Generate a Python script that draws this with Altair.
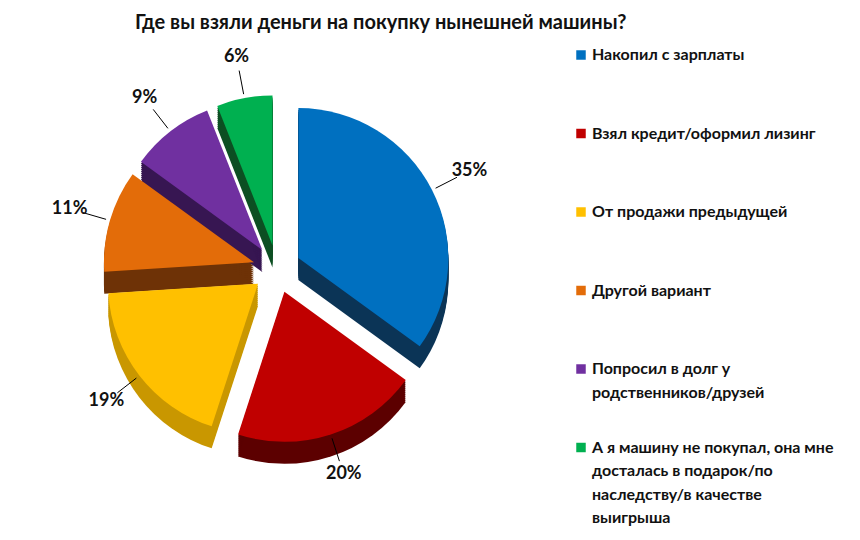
import math
import altair as alt
import pandas as pd

title_text = "Где вы взяли деньги на покупку нынешней машины?"
categories = [
    "Накопил с зарплаты",
    "Взял кредит/оформил лизинг",
    "От продажи предыдущей",
    "Другой вариант",
    "Попросил в долг у|родственников/друзей",
    "А я машину не покупал, она мне|досталась в подарок/по|наследству/в качестве|выигрыша",
]
values = [35, 20, 19, 11, 9, 6]
top_colors = ["#0070C0", "#C00000", "#FFC000", "#E36C09", "#7030A0", "#00B050"]
side_colors = ["#0B3456", "#5C0000", "#C99700", "#6E3206", "#371652", "#0C4F22"]
depth_steps = [2, 4, 6, 8, 10, 12, 14, 16, 18, 20, 22]

FONT = "Lato"
CX, CY = 264, 232      # pie centre (pixels in plot area)
R = 150                # pie radius
EXPLODE = 24           # slice explosion distance
LABEL_R = R + 42

base = pd.DataFrame({
    "cat": categories,
    "value": values,
    "order": list(range(len(values))),
    "side": side_colors,
})
side_df = base.merge(pd.DataFrame({"depth": depth_steps}), how="cross")
top_df = base.assign(depth=0)

color_scale = alt.Scale(domain=categories, range=top_colors)
theta_scale = alt.Scale(domain=[0, 100], range=[0, 2 * math.pi])


def geometry(chart):
    return (
        chart.transform_window(
            t1="sum(value)", sort=[alt.SortField("order")],
            frame=[None, 0], groupby=["depth"]
        )
        .transform_calculate(t0="datum.t1 - datum.value")
        .transform_calculate(mid="(datum.t0 + datum.t1) / 2 * 2 * PI / 100")
        .transform_calculate(
            px=f"{CX} + {EXPLODE} * sin(datum.mid)",
            py=f"{CY} - {EXPLODE} * cos(datum.mid) + datum.depth",
        )
    )


sides = geometry(alt.Chart(side_df)).mark_arc(outerRadius=R, stroke=None).encode(
    theta=alt.Theta("t0:Q", scale=theta_scale, stack=False),
    theta2="t1:Q",
    x=alt.X("px:Q", scale=None),
    y=alt.Y("py:Q", scale=None),
    fill=alt.Fill("side:N", scale=None),
)

tops = geometry(alt.Chart(top_df)).mark_arc(outerRadius=R).encode(
    theta=alt.Theta("t0:Q", scale=theta_scale, stack=False),
    theta2="t1:Q",
    x=alt.X("px:Q", scale=None),
    y=alt.Y("py:Q", scale=None),
    color=alt.Color(
        "cat:N",
        scale=color_scale,
        sort=categories,
        legend=alt.Legend(
            title=None,
            orient="none",
            legendX=560,
            legendY=10,
            symbolType="square",
            symbolSize=90,
            symbolStrokeWidth=0,
            labelFont=FONT,
            labelFontSize=16,
            labelFontWeight="bold",
            labelColor="#111111",
            labelLimit=400,
            labelExpr="indexof(datum.label, '|') < 0 ? [datum.label, ''] : split(datum.label, '|')",
            labelBaseline="alphabetic",
            labelOffset=3,
            rowPadding=38.5,
            gridAlign="each",
        ),
    ),
)

labels_base = geometry(alt.Chart(top_df)).transform_calculate(
    lx=f"datum.px + {LABEL_R} * sin(datum.mid)",
    ly=f"datum.py - {LABEL_R} * cos(datum.mid)",
    ax=f"datum.px + ({R} + 4) * sin(datum.mid)",
    ay=f"datum.py - ({R} + 4) * cos(datum.mid)",
    bx=f"datum.px + ({LABEL_R} - 14) * sin(datum.mid)",
    by=f"datum.py - ({LABEL_R} - 14) * cos(datum.mid)",
    txt="datum.value + '%'",
)

leaders = labels_base.mark_rule(color="#000000", strokeWidth=1).encode(
    x=alt.X("ax:Q", scale=None),
    y=alt.Y("ay:Q", scale=None),
    x2="bx:Q",
    y2="by:Q",
)

labels = labels_base.mark_text(
    font=FONT, fontSize=18, fontWeight="bold", color="#111111"
).encode(
    x=alt.X("lx:Q", scale=None),
    y=alt.Y("ly:Q", scale=None),
    text="txt:N",
)

chart = (
    alt.layer(sides, tops, leaders, labels)
    .properties(
        width=560,
        height=480,
        title=alt.TitleParams(
            title_text,
            font=FONT,
            fontSize=20,
            fontWeight="bold",
            color="#111111",
            anchor="start",
            frame="group",
            dx=122,
            offset=4,
        ),
    )
    .configure(style={"guide-label": {"lineHeight": 23.5, "dy": 5}})
    .configure_view(stroke=None)
)

chart.save("out.html", embed_options={"renderer": "svg", "actions": False})
